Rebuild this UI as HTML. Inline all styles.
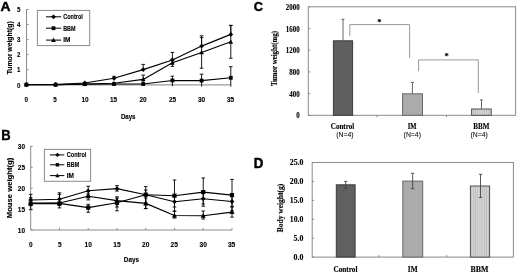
<!DOCTYPE html>
<html><head><meta charset="utf-8"><style>
html,body{margin:0;padding:0;background:#fff;overflow:hidden;}
svg{display:block;filter:blur(0.35px);}
</style></head><body>
<svg width="520" height="274" viewBox="0 0 520 274">
<defs>
<pattern id="vh" patternUnits="userSpaceOnUse" width="2.2" height="4">
<rect width="2.2" height="4" fill="#d4d4d4"/>
<rect width="0.7" height="4" fill="#b8b8b8"/>
</pattern>
</defs>
<rect width="520" height="274" fill="#fff"/>
<text x="0.5" y="10.6" font-family='"Liberation Sans", sans-serif' font-size="13.2" font-weight="bold" text-anchor="start" fill="#000" textLength="10.0" lengthAdjust="spacingAndGlyphs" stroke="#000" stroke-width="0.45" >A</text>
<line x1="26.50" y1="9.30" x2="26.50" y2="85.30" stroke="#8a8a8a" stroke-width="1"/>
<line x1="26.50" y1="84.80" x2="231.00" y2="84.80" stroke="#999" stroke-width="1.3"/>
<line x1="26.50" y1="84.80" x2="28.50" y2="84.80" stroke="#8a8a8a" stroke-width="1"/>
<text x="18.6" y="87.5" font-family='"Liberation Sans", sans-serif' font-size="7.6" font-weight="bold" text-anchor="middle" fill="#000" textLength="3.4" lengthAdjust="spacingAndGlyphs" stroke="#000" stroke-width="0.12" >0</text>
<line x1="26.50" y1="69.74" x2="28.50" y2="69.74" stroke="#8a8a8a" stroke-width="1"/>
<text x="18.6" y="72.44" font-family='"Liberation Sans", sans-serif' font-size="7.6" font-weight="bold" text-anchor="middle" fill="#000" textLength="3.4" lengthAdjust="spacingAndGlyphs" stroke="#000" stroke-width="0.12" >1</text>
<line x1="26.50" y1="54.68" x2="28.50" y2="54.68" stroke="#8a8a8a" stroke-width="1"/>
<text x="18.6" y="57.379999999999995" font-family='"Liberation Sans", sans-serif' font-size="7.6" font-weight="bold" text-anchor="middle" fill="#000" textLength="3.4" lengthAdjust="spacingAndGlyphs" stroke="#000" stroke-width="0.12" >2</text>
<line x1="26.50" y1="39.62" x2="28.50" y2="39.62" stroke="#8a8a8a" stroke-width="1"/>
<text x="18.6" y="42.32" font-family='"Liberation Sans", sans-serif' font-size="7.6" font-weight="bold" text-anchor="middle" fill="#000" textLength="3.4" lengthAdjust="spacingAndGlyphs" stroke="#000" stroke-width="0.12" >3</text>
<line x1="26.50" y1="24.56" x2="28.50" y2="24.56" stroke="#8a8a8a" stroke-width="1"/>
<text x="18.6" y="27.259999999999994" font-family='"Liberation Sans", sans-serif' font-size="7.6" font-weight="bold" text-anchor="middle" fill="#000" textLength="3.4" lengthAdjust="spacingAndGlyphs" stroke="#000" stroke-width="0.12" >4</text>
<line x1="26.50" y1="9.50" x2="28.50" y2="9.50" stroke="#8a8a8a" stroke-width="1"/>
<text x="18.6" y="12.2" font-family='"Liberation Sans", sans-serif' font-size="7.6" font-weight="bold" text-anchor="middle" fill="#000" textLength="3.4" lengthAdjust="spacingAndGlyphs" stroke="#000" stroke-width="0.12" >5</text>
<text x="26.2" y="102.0" font-family='"Liberation Sans", sans-serif' font-size="7.6" font-weight="bold" text-anchor="middle" fill="#000" textLength="3.5" lengthAdjust="spacingAndGlyphs" stroke="#000" stroke-width="0.12" >0</text>
<text x="55.1" y="102.0" font-family='"Liberation Sans", sans-serif' font-size="7.6" font-weight="bold" text-anchor="middle" fill="#000" textLength="3.5" lengthAdjust="spacingAndGlyphs" stroke="#000" stroke-width="0.12" >5</text>
<text x="85.0" y="102.0" font-family='"Liberation Sans", sans-serif' font-size="7.6" font-weight="bold" text-anchor="middle" fill="#000" textLength="7.2" lengthAdjust="spacingAndGlyphs" stroke="#000" stroke-width="0.12" >10</text>
<text x="113.6" y="102.0" font-family='"Liberation Sans", sans-serif' font-size="7.6" font-weight="bold" text-anchor="middle" fill="#000" textLength="7.2" lengthAdjust="spacingAndGlyphs" stroke="#000" stroke-width="0.12" >15</text>
<text x="143.1" y="102.0" font-family='"Liberation Sans", sans-serif' font-size="7.6" font-weight="bold" text-anchor="middle" fill="#000" textLength="7.2" lengthAdjust="spacingAndGlyphs" stroke="#000" stroke-width="0.12" >20</text>
<text x="172.5" y="102.0" font-family='"Liberation Sans", sans-serif' font-size="7.6" font-weight="bold" text-anchor="middle" fill="#000" textLength="7.2" lengthAdjust="spacingAndGlyphs" stroke="#000" stroke-width="0.12" >25</text>
<text x="201.5" y="102.0" font-family='"Liberation Sans", sans-serif' font-size="7.6" font-weight="bold" text-anchor="middle" fill="#000" textLength="7.2" lengthAdjust="spacingAndGlyphs" stroke="#000" stroke-width="0.12" >30</text>
<text x="230.6" y="102.0" font-family='"Liberation Sans", sans-serif' font-size="7.6" font-weight="bold" text-anchor="middle" fill="#000" textLength="7.2" lengthAdjust="spacingAndGlyphs" stroke="#000" stroke-width="0.12" >35</text>
<text x="128.2" y="118.6" font-family='"Liberation Sans", sans-serif' font-size="7.2" font-weight="bold" text-anchor="middle" fill="#000" textLength="14.6" lengthAdjust="spacingAndGlyphs" stroke="#000" stroke-width="0.12" >Days</text>
<text x="0" y="0" font-family='"Liberation Sans", sans-serif' font-size="7.0" font-weight="bold" text-anchor="middle" fill="#000" textLength="53.0" lengthAdjust="spacingAndGlyphs" stroke="#000" stroke-width="0.12" transform="translate(11.6,47.8) rotate(-90)">Tumor weight(g)</text>
<line x1="114.00" y1="76.30" x2="114.00" y2="78.30" stroke="#000" stroke-width="0.9"/>
<line x1="112.20" y1="76.30" x2="115.80" y2="76.30" stroke="#000" stroke-width="0.9"/>
<line x1="143.20" y1="64.40" x2="143.20" y2="69.60" stroke="#000" stroke-width="0.9"/>
<line x1="141.40" y1="64.40" x2="145.00" y2="64.40" stroke="#000" stroke-width="0.9"/>
<line x1="172.40" y1="52.40" x2="172.40" y2="60.00" stroke="#000" stroke-width="0.9"/>
<line x1="170.60" y1="52.40" x2="174.20" y2="52.40" stroke="#000" stroke-width="0.9"/>
<line x1="201.60" y1="35.80" x2="201.60" y2="46.10" stroke="#000" stroke-width="0.9"/>
<line x1="199.80" y1="35.80" x2="203.40" y2="35.80" stroke="#000" stroke-width="0.9"/>
<line x1="230.80" y1="25.40" x2="230.80" y2="34.40" stroke="#000" stroke-width="0.9"/>
<line x1="229.00" y1="25.40" x2="232.60" y2="25.40" stroke="#000" stroke-width="0.9"/>
<line x1="143.20" y1="75.10" x2="143.20" y2="83.90" stroke="#000" stroke-width="0.9"/>
<line x1="141.40" y1="75.10" x2="145.00" y2="75.10" stroke="#000" stroke-width="0.9"/>
<line x1="141.40" y1="83.90" x2="145.00" y2="83.90" stroke="#000" stroke-width="0.9"/>
<line x1="172.40" y1="59.30" x2="172.40" y2="66.40" stroke="#000" stroke-width="0.9"/>
<line x1="170.60" y1="59.30" x2="174.20" y2="59.30" stroke="#000" stroke-width="0.9"/>
<line x1="170.60" y1="66.40" x2="174.20" y2="66.40" stroke="#000" stroke-width="0.9"/>
<line x1="201.60" y1="37.60" x2="201.60" y2="68.20" stroke="#000" stroke-width="0.9"/>
<line x1="199.80" y1="37.60" x2="203.40" y2="37.60" stroke="#000" stroke-width="0.9"/>
<line x1="199.80" y1="68.20" x2="203.40" y2="68.20" stroke="#000" stroke-width="0.9"/>
<line x1="230.80" y1="25.40" x2="230.80" y2="58.20" stroke="#000" stroke-width="0.9"/>
<line x1="229.00" y1="25.40" x2="232.60" y2="25.40" stroke="#000" stroke-width="0.9"/>
<line x1="229.00" y1="58.20" x2="232.60" y2="58.20" stroke="#000" stroke-width="0.9"/>
<line x1="172.40" y1="76.20" x2="172.40" y2="86.20" stroke="#000" stroke-width="0.9"/>
<line x1="170.60" y1="76.20" x2="174.20" y2="76.20" stroke="#000" stroke-width="0.9"/>
<line x1="201.60" y1="74.20" x2="201.60" y2="86.60" stroke="#000" stroke-width="0.9"/>
<line x1="199.80" y1="74.20" x2="203.40" y2="74.20" stroke="#000" stroke-width="0.9"/>
<line x1="230.80" y1="66.70" x2="230.80" y2="86.60" stroke="#000" stroke-width="0.9"/>
<line x1="229.00" y1="66.70" x2="232.60" y2="66.70" stroke="#000" stroke-width="0.9"/>
<polyline points="26.40,84.60 55.60,84.60 84.80,84.20 114.00,84.00 143.20,84.00 172.40,80.50 201.60,80.60 230.80,77.80" fill="none" stroke="#000" stroke-width="1.15" stroke-linejoin="round"/>
<polyline points="26.40,84.60 55.60,84.60 84.80,84.00 114.00,83.30 143.20,79.40 172.40,62.80 201.60,52.50 230.80,41.80" fill="none" stroke="#000" stroke-width="1.15" stroke-linejoin="round"/>
<polyline points="26.40,84.50 55.60,84.50 84.80,83.00 114.00,78.30 143.20,69.60 172.40,60.00 201.60,46.10 230.80,34.40" fill="none" stroke="#000" stroke-width="1.15" stroke-linejoin="round"/>
<rect x="24.50" y="82.70" width="3.80" height="3.80" fill="#000"/>
<rect x="53.70" y="82.70" width="3.80" height="3.80" fill="#000"/>
<rect x="82.90" y="82.30" width="3.80" height="3.80" fill="#000"/>
<rect x="112.10" y="82.10" width="3.80" height="3.80" fill="#000"/>
<rect x="141.30" y="82.10" width="3.80" height="3.80" fill="#000"/>
<rect x="170.50" y="78.60" width="3.80" height="3.80" fill="#000"/>
<rect x="199.70" y="78.70" width="3.80" height="3.80" fill="#000"/>
<rect x="228.90" y="75.90" width="3.80" height="3.80" fill="#000"/>
<polygon points="26.40,82.07 28.70,86.44 24.10,86.44" fill="#000"/>
<polygon points="55.60,82.07 57.90,86.44 53.30,86.44" fill="#000"/>
<polygon points="84.80,81.47 87.10,85.84 82.50,85.84" fill="#000"/>
<polygon points="114.00,80.77 116.30,85.14 111.70,85.14" fill="#000"/>
<polygon points="143.20,76.87 145.50,81.24 140.90,81.24" fill="#000"/>
<polygon points="172.40,60.27 174.70,64.64 170.10,64.64" fill="#000"/>
<polygon points="201.60,49.97 203.90,54.34 199.30,54.34" fill="#000"/>
<polygon points="230.80,39.27 233.10,43.64 228.50,43.64" fill="#000"/>
<polygon points="26.40,82.10 28.80,84.50 26.40,86.90 24.00,84.50" fill="#000"/>
<polygon points="55.60,82.10 58.00,84.50 55.60,86.90 53.20,84.50" fill="#000"/>
<polygon points="84.80,80.60 87.20,83.00 84.80,85.40 82.40,83.00" fill="#000"/>
<polygon points="114.00,75.90 116.40,78.30 114.00,80.70 111.60,78.30" fill="#000"/>
<polygon points="143.20,67.20 145.60,69.60 143.20,72.00 140.80,69.60" fill="#000"/>
<polygon points="172.40,57.60 174.80,60.00 172.40,62.40 170.00,60.00" fill="#000"/>
<polygon points="201.60,43.70 204.00,46.10 201.60,48.50 199.20,46.10" fill="#000"/>
<polygon points="230.80,32.00 233.20,34.40 230.80,36.80 228.40,34.40" fill="#000"/>
<rect x="37.4" y="10.4" width="52.3" height="35.2" fill="#fff" stroke="#8a8a8a" stroke-width="1"/>
<line x1="46.00" y1="16.80" x2="61.20" y2="16.80" stroke="#000" stroke-width="1"/>
<polygon points="53.50,14.40 55.90,16.80 53.50,19.20 51.10,16.80" fill="#000"/>
<text x="63.2" y="19.1" font-family='"Liberation Sans", sans-serif' font-size="6.4" font-weight="bold" text-anchor="start" fill="#000" textLength="19.6" lengthAdjust="spacingAndGlyphs" stroke="#000" stroke-width="0.12" >Control</text>
<line x1="46.00" y1="28.20" x2="61.20" y2="28.20" stroke="#000" stroke-width="1"/>
<rect x="51.60" y="26.30" width="3.80" height="3.80" fill="#000"/>
<text x="63.2" y="30.5" font-family='"Liberation Sans", sans-serif' font-size="6.4" font-weight="bold" text-anchor="start" fill="#000" textLength="12.4" lengthAdjust="spacingAndGlyphs" stroke="#000" stroke-width="0.12" >BBM</text>
<line x1="46.00" y1="40.10" x2="61.20" y2="40.10" stroke="#000" stroke-width="1"/>
<polygon points="53.50,37.57 55.80,41.94 51.20,41.94" fill="#000"/>
<text x="63.2" y="42.4" font-family='"Liberation Sans", sans-serif' font-size="6.4" font-weight="bold" text-anchor="start" fill="#000" textLength="7.2" lengthAdjust="spacingAndGlyphs" stroke="#000" stroke-width="0.12" >IM</text>
<text x="1.2" y="139.9" font-family='"Liberation Sans", sans-serif' font-size="14.2" font-weight="bold" text-anchor="start" fill="#000" textLength="9.4" lengthAdjust="spacingAndGlyphs" stroke="#000" stroke-width="0.4" >B</text>
<line x1="30.70" y1="146.00" x2="30.70" y2="230.00" stroke="#8a8a8a" stroke-width="1"/>
<line x1="30.70" y1="230.00" x2="232.00" y2="230.00" stroke="#8a8a8a" stroke-width="1"/>
<line x1="30.70" y1="230.00" x2="32.70" y2="230.00" stroke="#8a8a8a" stroke-width="1"/>
<text x="21.4" y="232.8" font-family='"Liberation Sans", sans-serif' font-size="7.6" font-weight="bold" text-anchor="middle" fill="#000" textLength="7.2" lengthAdjust="spacingAndGlyphs" stroke="#000" stroke-width="0.12" >10</text>
<line x1="30.70" y1="209.07" x2="32.70" y2="209.07" stroke="#8a8a8a" stroke-width="1"/>
<text x="21.4" y="211.875" font-family='"Liberation Sans", sans-serif' font-size="7.6" font-weight="bold" text-anchor="middle" fill="#000" textLength="7.2" lengthAdjust="spacingAndGlyphs" stroke="#000" stroke-width="0.12" >15</text>
<line x1="30.70" y1="188.15" x2="32.70" y2="188.15" stroke="#8a8a8a" stroke-width="1"/>
<text x="21.4" y="190.95000000000002" font-family='"Liberation Sans", sans-serif' font-size="7.6" font-weight="bold" text-anchor="middle" fill="#000" textLength="7.2" lengthAdjust="spacingAndGlyphs" stroke="#000" stroke-width="0.12" >20</text>
<line x1="30.70" y1="167.23" x2="32.70" y2="167.23" stroke="#8a8a8a" stroke-width="1"/>
<text x="21.4" y="170.02500000000003" font-family='"Liberation Sans", sans-serif' font-size="7.6" font-weight="bold" text-anchor="middle" fill="#000" textLength="7.2" lengthAdjust="spacingAndGlyphs" stroke="#000" stroke-width="0.12" >25</text>
<line x1="30.70" y1="146.30" x2="32.70" y2="146.30" stroke="#8a8a8a" stroke-width="1"/>
<text x="21.4" y="149.10000000000002" font-family='"Liberation Sans", sans-serif' font-size="7.6" font-weight="bold" text-anchor="middle" fill="#000" textLength="7.2" lengthAdjust="spacingAndGlyphs" stroke="#000" stroke-width="0.12" >30</text>
<text x="30.8" y="247.1" font-family='"Liberation Sans", sans-serif' font-size="7.6" font-weight="bold" text-anchor="middle" fill="#000" textLength="3.6" lengthAdjust="spacingAndGlyphs" stroke="#000" stroke-width="0.12" >0</text>
<line x1="59.46" y1="230.00" x2="59.46" y2="228.00" stroke="#8a8a8a" stroke-width="1"/>
<text x="59.7" y="247.1" font-family='"Liberation Sans", sans-serif' font-size="7.6" font-weight="bold" text-anchor="middle" fill="#000" textLength="3.6" lengthAdjust="spacingAndGlyphs" stroke="#000" stroke-width="0.12" >5</text>
<line x1="88.21" y1="230.00" x2="88.21" y2="228.00" stroke="#8a8a8a" stroke-width="1"/>
<text x="88.2" y="247.1" font-family='"Liberation Sans", sans-serif' font-size="7.6" font-weight="bold" text-anchor="middle" fill="#000" textLength="7.4" lengthAdjust="spacingAndGlyphs" stroke="#000" stroke-width="0.12" >10</text>
<line x1="116.97" y1="230.00" x2="116.97" y2="228.00" stroke="#8a8a8a" stroke-width="1"/>
<text x="117.0" y="247.1" font-family='"Liberation Sans", sans-serif' font-size="7.6" font-weight="bold" text-anchor="middle" fill="#000" textLength="7.4" lengthAdjust="spacingAndGlyphs" stroke="#000" stroke-width="0.12" >15</text>
<line x1="145.73" y1="230.00" x2="145.73" y2="228.00" stroke="#8a8a8a" stroke-width="1"/>
<text x="145.8" y="247.1" font-family='"Liberation Sans", sans-serif' font-size="7.6" font-weight="bold" text-anchor="middle" fill="#000" textLength="7.4" lengthAdjust="spacingAndGlyphs" stroke="#000" stroke-width="0.12" >20</text>
<line x1="174.49" y1="230.00" x2="174.49" y2="228.00" stroke="#8a8a8a" stroke-width="1"/>
<text x="174.3" y="247.1" font-family='"Liberation Sans", sans-serif' font-size="7.6" font-weight="bold" text-anchor="middle" fill="#000" textLength="7.4" lengthAdjust="spacingAndGlyphs" stroke="#000" stroke-width="0.12" >25</text>
<line x1="203.24" y1="230.00" x2="203.24" y2="228.00" stroke="#8a8a8a" stroke-width="1"/>
<text x="203.2" y="247.1" font-family='"Liberation Sans", sans-serif' font-size="7.6" font-weight="bold" text-anchor="middle" fill="#000" textLength="7.4" lengthAdjust="spacingAndGlyphs" stroke="#000" stroke-width="0.12" >30</text>
<line x1="232.00" y1="230.00" x2="232.00" y2="228.00" stroke="#8a8a8a" stroke-width="1"/>
<text x="231.6" y="247.1" font-family='"Liberation Sans", sans-serif' font-size="7.6" font-weight="bold" text-anchor="middle" fill="#000" textLength="7.4" lengthAdjust="spacingAndGlyphs" stroke="#000" stroke-width="0.12" >35</text>
<text x="131.4" y="262.0" font-family='"Liberation Sans", sans-serif' font-size="7.4" font-weight="bold" text-anchor="middle" fill="#000" textLength="15.2" lengthAdjust="spacingAndGlyphs" stroke="#000" stroke-width="0.12" >Days</text>
<text x="0" y="0" font-family='"Liberation Sans", sans-serif' font-size="7.2" font-weight="bold" text-anchor="middle" fill="#000" textLength="60.5" lengthAdjust="spacingAndGlyphs" stroke="#000" stroke-width="0.12" transform="translate(11.9,188.0) rotate(-90)">Mouse weight(g)</text>
<line x1="30.70" y1="194.30" x2="30.70" y2="205.70" stroke="#000" stroke-width="0.9"/>
<line x1="28.90" y1="194.30" x2="32.50" y2="194.30" stroke="#000" stroke-width="0.9"/>
<line x1="28.90" y1="205.70" x2="32.50" y2="205.70" stroke="#000" stroke-width="0.9"/>
<line x1="30.70" y1="197.80" x2="30.70" y2="209.70" stroke="#000" stroke-width="0.9"/>
<line x1="28.90" y1="197.80" x2="32.50" y2="197.80" stroke="#000" stroke-width="0.9"/>
<line x1="28.90" y1="209.70" x2="32.50" y2="209.70" stroke="#000" stroke-width="0.9"/>
<line x1="59.46" y1="192.80" x2="59.46" y2="205.60" stroke="#000" stroke-width="0.9"/>
<line x1="57.66" y1="192.80" x2="61.26" y2="192.80" stroke="#000" stroke-width="0.9"/>
<line x1="57.66" y1="205.60" x2="61.26" y2="205.60" stroke="#000" stroke-width="0.9"/>
<line x1="59.46" y1="194.30" x2="59.46" y2="207.90" stroke="#000" stroke-width="0.9"/>
<line x1="57.66" y1="194.30" x2="61.26" y2="194.30" stroke="#000" stroke-width="0.9"/>
<line x1="57.66" y1="207.90" x2="61.26" y2="207.90" stroke="#000" stroke-width="0.9"/>
<line x1="88.21" y1="186.30" x2="88.21" y2="195.30" stroke="#000" stroke-width="0.9"/>
<line x1="86.41" y1="186.30" x2="90.01" y2="186.30" stroke="#000" stroke-width="0.9"/>
<line x1="86.41" y1="195.30" x2="90.01" y2="195.30" stroke="#000" stroke-width="0.9"/>
<line x1="88.21" y1="193.90" x2="88.21" y2="199.90" stroke="#000" stroke-width="0.9"/>
<line x1="86.41" y1="193.90" x2="90.01" y2="193.90" stroke="#000" stroke-width="0.9"/>
<line x1="86.41" y1="199.90" x2="90.01" y2="199.90" stroke="#000" stroke-width="0.9"/>
<line x1="88.21" y1="204.30" x2="88.21" y2="212.30" stroke="#000" stroke-width="0.9"/>
<line x1="86.41" y1="204.30" x2="90.01" y2="204.30" stroke="#000" stroke-width="0.9"/>
<line x1="86.41" y1="212.30" x2="90.01" y2="212.30" stroke="#000" stroke-width="0.9"/>
<line x1="116.97" y1="185.60" x2="116.97" y2="191.10" stroke="#000" stroke-width="0.9"/>
<line x1="115.17" y1="185.60" x2="118.77" y2="185.60" stroke="#000" stroke-width="0.9"/>
<line x1="115.17" y1="191.10" x2="118.77" y2="191.10" stroke="#000" stroke-width="0.9"/>
<line x1="116.97" y1="196.80" x2="116.97" y2="210.80" stroke="#000" stroke-width="0.9"/>
<line x1="115.17" y1="196.80" x2="118.77" y2="196.80" stroke="#000" stroke-width="0.9"/>
<line x1="115.17" y1="210.80" x2="118.77" y2="210.80" stroke="#000" stroke-width="0.9"/>
<line x1="116.97" y1="198.00" x2="116.97" y2="207.00" stroke="#000" stroke-width="0.9"/>
<line x1="115.17" y1="198.00" x2="118.77" y2="198.00" stroke="#000" stroke-width="0.9"/>
<line x1="115.17" y1="207.00" x2="118.77" y2="207.00" stroke="#000" stroke-width="0.9"/>
<line x1="145.73" y1="186.60" x2="145.73" y2="202.80" stroke="#000" stroke-width="0.9"/>
<line x1="143.93" y1="186.60" x2="147.53" y2="186.60" stroke="#000" stroke-width="0.9"/>
<line x1="143.93" y1="202.80" x2="147.53" y2="202.80" stroke="#000" stroke-width="0.9"/>
<line x1="145.73" y1="190.00" x2="145.73" y2="208.60" stroke="#000" stroke-width="0.9"/>
<line x1="143.93" y1="190.00" x2="147.53" y2="190.00" stroke="#000" stroke-width="0.9"/>
<line x1="143.93" y1="208.60" x2="147.53" y2="208.60" stroke="#000" stroke-width="0.9"/>
<line x1="145.73" y1="198.00" x2="145.73" y2="208.60" stroke="#000" stroke-width="0.9"/>
<line x1="143.93" y1="198.00" x2="147.53" y2="198.00" stroke="#000" stroke-width="0.9"/>
<line x1="143.93" y1="208.60" x2="147.53" y2="208.60" stroke="#000" stroke-width="0.9"/>
<line x1="174.49" y1="180.00" x2="174.49" y2="211.40" stroke="#000" stroke-width="0.9"/>
<line x1="172.69" y1="180.00" x2="176.29" y2="180.00" stroke="#000" stroke-width="0.9"/>
<line x1="172.69" y1="211.40" x2="176.29" y2="211.40" stroke="#000" stroke-width="0.9"/>
<line x1="174.49" y1="196.50" x2="174.49" y2="207.00" stroke="#000" stroke-width="0.9"/>
<line x1="172.69" y1="196.50" x2="176.29" y2="196.50" stroke="#000" stroke-width="0.9"/>
<line x1="172.69" y1="207.00" x2="176.29" y2="207.00" stroke="#000" stroke-width="0.9"/>
<line x1="174.49" y1="211.00" x2="174.49" y2="218.10" stroke="#000" stroke-width="0.9"/>
<line x1="172.69" y1="211.00" x2="176.29" y2="211.00" stroke="#000" stroke-width="0.9"/>
<line x1="172.69" y1="218.10" x2="176.29" y2="218.10" stroke="#000" stroke-width="0.9"/>
<line x1="203.24" y1="178.00" x2="203.24" y2="206.20" stroke="#000" stroke-width="0.9"/>
<line x1="201.44" y1="178.00" x2="205.04" y2="178.00" stroke="#000" stroke-width="0.9"/>
<line x1="201.44" y1="206.20" x2="205.04" y2="206.20" stroke="#000" stroke-width="0.9"/>
<line x1="203.24" y1="193.50" x2="203.24" y2="204.00" stroke="#000" stroke-width="0.9"/>
<line x1="201.44" y1="193.50" x2="205.04" y2="193.50" stroke="#000" stroke-width="0.9"/>
<line x1="201.44" y1="204.00" x2="205.04" y2="204.00" stroke="#000" stroke-width="0.9"/>
<line x1="203.24" y1="211.00" x2="203.24" y2="219.00" stroke="#000" stroke-width="0.9"/>
<line x1="201.44" y1="211.00" x2="205.04" y2="211.00" stroke="#000" stroke-width="0.9"/>
<line x1="201.44" y1="219.00" x2="205.04" y2="219.00" stroke="#000" stroke-width="0.9"/>
<line x1="232.00" y1="179.40" x2="232.00" y2="211.00" stroke="#000" stroke-width="0.9"/>
<line x1="230.20" y1="179.40" x2="233.80" y2="179.40" stroke="#000" stroke-width="0.9"/>
<line x1="230.20" y1="211.00" x2="233.80" y2="211.00" stroke="#000" stroke-width="0.9"/>
<line x1="232.00" y1="196.50" x2="232.00" y2="206.50" stroke="#000" stroke-width="0.9"/>
<line x1="230.20" y1="196.50" x2="233.80" y2="196.50" stroke="#000" stroke-width="0.9"/>
<line x1="230.20" y1="206.50" x2="233.80" y2="206.50" stroke="#000" stroke-width="0.9"/>
<line x1="232.00" y1="207.00" x2="232.00" y2="217.10" stroke="#000" stroke-width="0.9"/>
<line x1="230.20" y1="207.00" x2="233.80" y2="207.00" stroke="#000" stroke-width="0.9"/>
<line x1="230.20" y1="217.10" x2="233.80" y2="217.10" stroke="#000" stroke-width="0.9"/>
<polyline points="30.70,203.60 59.46,203.40 88.21,207.60 116.97,202.80 145.73,194.70 174.49,195.70 203.24,192.10 232.00,195.10" fill="none" stroke="#000" stroke-width="1.15" stroke-linejoin="round"/>
<polyline points="30.70,203.00 59.46,203.00 88.21,196.20 116.97,200.60 145.73,203.40 174.49,215.50 203.24,215.70 232.00,212.10" fill="none" stroke="#000" stroke-width="1.15" stroke-linejoin="round"/>
<polyline points="30.70,200.00 59.46,199.20 88.21,190.80 116.97,188.60 145.73,194.70 174.49,201.70 203.24,198.70 232.00,201.50" fill="none" stroke="#000" stroke-width="1.15" stroke-linejoin="round"/>
<rect x="28.61" y="201.51" width="4.18" height="4.18" fill="#000"/>
<rect x="57.37" y="201.31" width="4.18" height="4.18" fill="#000"/>
<rect x="86.12" y="205.51" width="4.18" height="4.18" fill="#000"/>
<rect x="114.88" y="200.71" width="4.18" height="4.18" fill="#000"/>
<rect x="143.64" y="192.61" width="4.18" height="4.18" fill="#000"/>
<rect x="172.40" y="193.61" width="4.18" height="4.18" fill="#000"/>
<rect x="201.15" y="190.01" width="4.18" height="4.18" fill="#000"/>
<rect x="229.91" y="193.01" width="4.18" height="4.18" fill="#000"/>
<polygon points="30.70,200.22 33.23,205.02 28.17,205.02" fill="#000"/>
<polygon points="59.46,200.22 61.99,205.02 56.93,205.02" fill="#000"/>
<polygon points="88.21,193.42 90.74,198.22 85.68,198.22" fill="#000"/>
<polygon points="116.97,197.82 119.50,202.62 114.44,202.62" fill="#000"/>
<polygon points="145.73,200.62 148.26,205.42 143.20,205.42" fill="#000"/>
<polygon points="174.49,212.72 177.02,217.52 171.96,217.52" fill="#000"/>
<polygon points="203.24,212.92 205.77,217.72 200.71,217.72" fill="#000"/>
<polygon points="232.00,209.32 234.53,214.12 229.47,214.12" fill="#000"/>
<polygon points="30.70,197.60 33.10,200.00 30.70,202.40 28.30,200.00" fill="#000"/>
<polygon points="59.46,196.80 61.86,199.20 59.46,201.60 57.06,199.20" fill="#000"/>
<polygon points="88.21,188.40 90.61,190.80 88.21,193.20 85.81,190.80" fill="#000"/>
<polygon points="116.97,186.20 119.37,188.60 116.97,191.00 114.57,188.60" fill="#000"/>
<polygon points="145.73,192.30 148.13,194.70 145.73,197.10 143.33,194.70" fill="#000"/>
<polygon points="174.49,199.30 176.89,201.70 174.49,204.10 172.09,201.70" fill="#000"/>
<polygon points="203.24,196.30 205.64,198.70 203.24,201.10 200.84,198.70" fill="#000"/>
<polygon points="232.00,199.10 234.40,201.50 232.00,203.90 229.60,201.50" fill="#000"/>
<rect x="44.4" y="149.4" width="46.2" height="31.9" fill="#fff" stroke="#8a8a8a" stroke-width="1"/>
<line x1="49.90" y1="154.90" x2="64.30" y2="154.90" stroke="#000" stroke-width="1"/>
<polygon points="57.40,152.74 59.56,154.90 57.40,157.06 55.24,154.90" fill="#000"/>
<text x="66.8" y="157.20000000000002" font-family='"Liberation Sans", sans-serif' font-size="6.4" font-weight="bold" text-anchor="start" fill="#000" textLength="19.6" lengthAdjust="spacingAndGlyphs" stroke="#000" stroke-width="0.12" >Control</text>
<line x1="49.90" y1="164.80" x2="64.30" y2="164.80" stroke="#000" stroke-width="1"/>
<rect x="55.69" y="163.09" width="3.42" height="3.42" fill="#000"/>
<text x="66.8" y="167.10000000000002" font-family='"Liberation Sans", sans-serif' font-size="6.4" font-weight="bold" text-anchor="start" fill="#000" textLength="12.4" lengthAdjust="spacingAndGlyphs" stroke="#000" stroke-width="0.12" >BBM</text>
<line x1="49.90" y1="175.60" x2="64.30" y2="175.60" stroke="#000" stroke-width="1"/>
<polygon points="57.40,173.32 59.47,177.26 55.33,177.26" fill="#000"/>
<text x="66.8" y="177.9" font-family='"Liberation Sans", sans-serif' font-size="6.4" font-weight="bold" text-anchor="start" fill="#000" textLength="7.2" lengthAdjust="spacingAndGlyphs" stroke="#000" stroke-width="0.12" >IM</text>
<text x="253.8" y="11.0" font-family='"Liberation Sans", sans-serif' font-size="13.6" font-weight="bold" text-anchor="start" fill="#000" textLength="9.2" lengthAdjust="spacingAndGlyphs" stroke="#000" stroke-width="0.45" >C</text>
<rect x="308.3" y="6.8" width="207.3" height="108.5" fill="none" stroke="#8a8a8a" stroke-width="1"/>
<line x1="308.30" y1="115.30" x2="310.30" y2="115.30" stroke="#8a8a8a" stroke-width="1"/>
<text x="299.6" y="118.3" font-family='"Liberation Serif", serif' font-size="7.4" font-weight="bold" text-anchor="end" fill="#000" textLength="3.45" lengthAdjust="spacingAndGlyphs" stroke="#000" stroke-width="0.12" >0</text>
<line x1="308.30" y1="93.60" x2="310.30" y2="93.60" stroke="#8a8a8a" stroke-width="1"/>
<text x="299.6" y="96.6" font-family='"Liberation Serif", serif' font-size="7.4" font-weight="bold" text-anchor="end" fill="#000" textLength="10.350000000000001" lengthAdjust="spacingAndGlyphs" stroke="#000" stroke-width="0.12" >400</text>
<line x1="308.30" y1="71.90" x2="310.30" y2="71.90" stroke="#8a8a8a" stroke-width="1"/>
<text x="299.6" y="74.89999999999999" font-family='"Liberation Serif", serif' font-size="7.4" font-weight="bold" text-anchor="end" fill="#000" textLength="10.350000000000001" lengthAdjust="spacingAndGlyphs" stroke="#000" stroke-width="0.12" >800</text>
<line x1="308.30" y1="50.20" x2="310.30" y2="50.20" stroke="#8a8a8a" stroke-width="1"/>
<text x="299.6" y="53.2" font-family='"Liberation Serif", serif' font-size="7.4" font-weight="bold" text-anchor="end" fill="#000" textLength="13.8" lengthAdjust="spacingAndGlyphs" stroke="#000" stroke-width="0.12" >1200</text>
<line x1="308.30" y1="28.50" x2="310.30" y2="28.50" stroke="#8a8a8a" stroke-width="1"/>
<text x="299.6" y="31.499999999999986" font-family='"Liberation Serif", serif' font-size="7.4" font-weight="bold" text-anchor="end" fill="#000" textLength="13.8" lengthAdjust="spacingAndGlyphs" stroke="#000" stroke-width="0.12" >1600</text>
<line x1="308.30" y1="6.80" x2="310.30" y2="6.80" stroke="#8a8a8a" stroke-width="1"/>
<text x="299.6" y="9.799999999999997" font-family='"Liberation Serif", serif' font-size="7.4" font-weight="bold" text-anchor="end" fill="#000" textLength="13.8" lengthAdjust="spacingAndGlyphs" stroke="#000" stroke-width="0.12" >2000</text>
<line x1="377.00" y1="115.30" x2="377.00" y2="117.30" stroke="#8a8a8a" stroke-width="1"/>
<line x1="446.60" y1="115.30" x2="446.60" y2="117.30" stroke="#8a8a8a" stroke-width="1"/>
<text x="0" y="0" font-family='"Liberation Serif", serif' font-size="7.4" font-weight="bold" text-anchor="middle" fill="#000" textLength="55.0" lengthAdjust="spacingAndGlyphs" stroke="#000" stroke-width="0.12" transform="translate(277.0,58.5) rotate(-90)">Tumor weight(mg)</text>
<rect x="333.4" y="40.8" width="19.20" height="74.50" fill="#5f5f5f" stroke="#3a3a3a" stroke-width="1"/>
<rect x="402.6" y="93.8" width="19.90" height="21.50" fill="#ababab" stroke="#666666" stroke-width="1"/>
<rect x="471.6" y="109.0" width="19.60" height="6.30" fill="url(#vh)" stroke="#505050" stroke-width="1"/>
<line x1="343.00" y1="19.30" x2="343.00" y2="40.80" stroke="#555" stroke-width="0.9"/>
<line x1="341.50" y1="19.30" x2="344.50" y2="19.30" stroke="#555" stroke-width="0.9"/>
<line x1="412.40" y1="82.40" x2="412.40" y2="93.60" stroke="#555" stroke-width="0.9"/>
<line x1="410.90" y1="82.40" x2="413.90" y2="82.40" stroke="#555" stroke-width="0.9"/>
<line x1="481.50" y1="100.00" x2="481.50" y2="108.80" stroke="#555" stroke-width="0.9"/>
<line x1="480.00" y1="100.00" x2="483.00" y2="100.00" stroke="#555" stroke-width="0.9"/>
<polyline points="349.80,36.30 349.80,24.60 409.60,24.60 409.60,57.90" fill="none" stroke="#9a9a9a" stroke-width="1" stroke-linejoin="round"/>
<polyline points="418.60,71.30 418.60,59.90 478.30,59.90 478.30,93.10" fill="none" stroke="#9a9a9a" stroke-width="1" stroke-linejoin="round"/>
<text x="379.4" y="25.0" font-family='"Liberation Serif", serif' font-size="8.5" font-weight="bold" text-anchor="middle" fill="#000" stroke="#000" stroke-width="0.12" >*</text>
<text x="446.7" y="58.7" font-family='"Liberation Serif", serif' font-size="8.5" font-weight="bold" text-anchor="middle" fill="#000" stroke="#000" stroke-width="0.12" >*</text>
<text x="342.5" y="128.6" font-family='"Liberation Serif", serif' font-size="7.2" font-weight="bold" text-anchor="middle" fill="#000" textLength="23.4" lengthAdjust="spacingAndGlyphs" stroke="#000" stroke-width="0.12" >Control</text>
<text x="412.1" y="128.6" font-family='"Liberation Serif", serif' font-size="7.2" font-weight="bold" text-anchor="middle" fill="#000" textLength="8.8" lengthAdjust="spacingAndGlyphs" stroke="#000" stroke-width="0.12" >IM</text>
<text x="481.3" y="128.6" font-family='"Liberation Serif", serif' font-size="7.2" font-weight="bold" text-anchor="middle" fill="#000" textLength="16.2" lengthAdjust="spacingAndGlyphs" stroke="#000" stroke-width="0.12" >BBM</text>
<text x="344.9" y="137.3" font-family='"Liberation Sans", sans-serif' font-size="7.0" font-weight="normal" text-anchor="middle" fill="#000" textLength="17.4" lengthAdjust="spacingAndGlyphs" stroke="#000" stroke-width="0.05" >(N=4)</text>
<text x="412.3" y="137.3" font-family='"Liberation Sans", sans-serif' font-size="7.0" font-weight="normal" text-anchor="middle" fill="#000" textLength="17.4" lengthAdjust="spacingAndGlyphs" stroke="#000" stroke-width="0.05" >(N=4)</text>
<text x="479.1" y="137.3" font-family='"Liberation Sans", sans-serif' font-size="7.0" font-weight="normal" text-anchor="middle" fill="#000" textLength="17.4" lengthAdjust="spacingAndGlyphs" stroke="#000" stroke-width="0.05" >(N=4)</text>
<text x="253.8" y="168.0" font-family='"Liberation Sans", sans-serif' font-size="14.0" font-weight="bold" text-anchor="start" fill="#000" textLength="9.6" lengthAdjust="spacingAndGlyphs" stroke="#000" stroke-width="0.45" >D</text>
<rect x="312.2" y="162.5" width="201.2" height="94.60000000000002" fill="none" stroke="#8a8a8a" stroke-width="1"/>
<line x1="312.20" y1="257.10" x2="314.20" y2="257.10" stroke="#8a8a8a" stroke-width="1"/>
<text x="303.4" y="259.8" font-family='"Liberation Serif", serif' font-size="7.8" font-weight="bold" text-anchor="end" fill="#000" textLength="9.8" lengthAdjust="spacingAndGlyphs" stroke="#000" stroke-width="0.12" >0.0</text>
<line x1="312.20" y1="238.18" x2="314.20" y2="238.18" stroke="#8a8a8a" stroke-width="1"/>
<text x="303.4" y="240.88" font-family='"Liberation Serif", serif' font-size="7.8" font-weight="bold" text-anchor="end" fill="#000" textLength="9.8" lengthAdjust="spacingAndGlyphs" stroke="#000" stroke-width="0.12" >5.0</text>
<line x1="312.20" y1="219.26" x2="314.20" y2="219.26" stroke="#8a8a8a" stroke-width="1"/>
<text x="303.4" y="221.96" font-family='"Liberation Serif", serif' font-size="7.8" font-weight="bold" text-anchor="end" fill="#000" textLength="13.6" lengthAdjust="spacingAndGlyphs" stroke="#000" stroke-width="0.12" >10.0</text>
<line x1="312.20" y1="200.34" x2="314.20" y2="200.34" stroke="#8a8a8a" stroke-width="1"/>
<text x="303.4" y="203.04" font-family='"Liberation Serif", serif' font-size="7.8" font-weight="bold" text-anchor="end" fill="#000" textLength="13.6" lengthAdjust="spacingAndGlyphs" stroke="#000" stroke-width="0.12" >15.0</text>
<line x1="312.20" y1="181.42" x2="314.20" y2="181.42" stroke="#8a8a8a" stroke-width="1"/>
<text x="303.4" y="184.12" font-family='"Liberation Serif", serif' font-size="7.8" font-weight="bold" text-anchor="end" fill="#000" textLength="13.6" lengthAdjust="spacingAndGlyphs" stroke="#000" stroke-width="0.12" >20.0</text>
<line x1="312.20" y1="162.50" x2="314.20" y2="162.50" stroke="#8a8a8a" stroke-width="1"/>
<text x="303.4" y="165.2" font-family='"Liberation Serif", serif' font-size="7.8" font-weight="bold" text-anchor="end" fill="#000" textLength="13.6" lengthAdjust="spacingAndGlyphs" stroke="#000" stroke-width="0.12" >25.0</text>
<line x1="379.00" y1="257.10" x2="379.00" y2="255.10" stroke="#8a8a8a" stroke-width="1"/>
<line x1="446.60" y1="257.10" x2="446.60" y2="255.10" stroke="#8a8a8a" stroke-width="1"/>
<text x="0" y="0" font-family='"Liberation Serif", serif' font-size="7.6" font-weight="bold" text-anchor="middle" fill="#000" textLength="48.5" lengthAdjust="spacingAndGlyphs" stroke="#000" stroke-width="0.12" transform="translate(283.3,208.0) rotate(-90)">Body weight(g)</text>
<rect x="336.3" y="184.8" width="18.80" height="72.30" fill="#606060" stroke="#3a3a3a" stroke-width="1"/>
<rect x="402.8" y="181.1" width="19.90" height="76.00" fill="#ababab" stroke="#666666" stroke-width="1"/>
<rect x="470.4" y="186.0" width="19.20" height="71.10" fill="url(#vh)" stroke="#505050" stroke-width="1"/>
<line x1="345.70" y1="181.40" x2="345.70" y2="188.50" stroke="#444" stroke-width="0.9"/>
<line x1="344.10" y1="181.40" x2="347.30" y2="181.40" stroke="#444" stroke-width="0.9"/>
<line x1="344.10" y1="188.50" x2="347.30" y2="188.50" stroke="#444" stroke-width="0.9"/>
<line x1="412.70" y1="173.30" x2="412.70" y2="188.70" stroke="#444" stroke-width="0.9"/>
<line x1="411.10" y1="173.30" x2="414.30" y2="173.30" stroke="#444" stroke-width="0.9"/>
<line x1="411.10" y1="188.70" x2="414.30" y2="188.70" stroke="#444" stroke-width="0.9"/>
<line x1="480.50" y1="174.30" x2="480.50" y2="197.50" stroke="#444" stroke-width="0.9"/>
<line x1="478.90" y1="174.30" x2="482.10" y2="174.30" stroke="#444" stroke-width="0.9"/>
<line x1="478.90" y1="197.50" x2="482.10" y2="197.50" stroke="#444" stroke-width="0.9"/>
<text x="345.5" y="271.6" font-family='"Liberation Serif", serif' font-size="7.4" font-weight="bold" text-anchor="middle" fill="#000" textLength="24.0" lengthAdjust="spacingAndGlyphs" stroke="#000" stroke-width="0.12" >Control</text>
<text x="412.7" y="271.6" font-family='"Liberation Serif", serif' font-size="7.4" font-weight="bold" text-anchor="middle" fill="#000" textLength="9.8" lengthAdjust="spacingAndGlyphs" stroke="#000" stroke-width="0.12" >IM</text>
<text x="479.5" y="271.6" font-family='"Liberation Serif", serif' font-size="7.4" font-weight="bold" text-anchor="middle" fill="#000" textLength="18.0" lengthAdjust="spacingAndGlyphs" stroke="#000" stroke-width="0.12" >BBM</text>
</svg>
</body></html>
